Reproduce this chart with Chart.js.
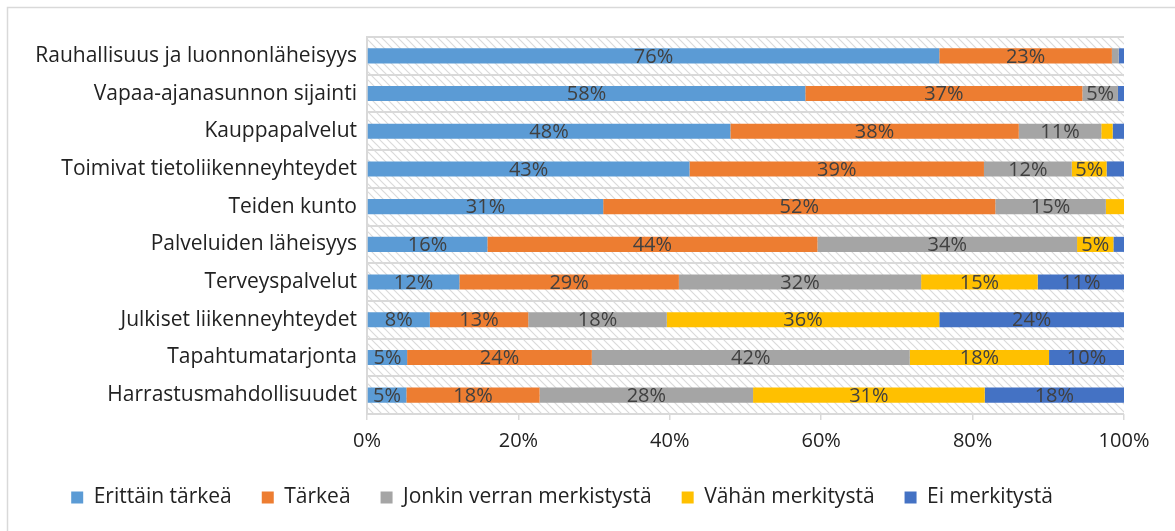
<!DOCTYPE html>
<html>
<head>
<meta charset="utf-8">
<script src="https://cdn.jsdelivr.net/npm/chart.js@4/dist/chart.umd.min.js"></script>
<style>
  body { margin: 0; background: #fff; }
  #wrap { width: 1175px; height: 531px; position: relative; }
</style>
</head>
<body>
<div id="wrap"><canvas id="barChart"></canvas></div>
<script>
// categories, top to bottom
var categories = [
    'Rauhallisuus ja luonnonläheisyys',
    'Vapaa-ajanasunnon sijainti',
    'Kauppapalvelut',
    'Toimivat tietoliikenneyhteydet',
    'Teiden kunto',
    'Palveluiden läheisyys',
    'Terveyspalvelut',
    'Julkiset liikenneyhteydet',
    'Tapahtumatarjonta',
    'Harrastusmahdollisuudet'
];
var seriesNames = ['Erittäin tärkeä', 'Tärkeä', 'Jonkin verran merkistystä', 'Vähän merkitystä', 'Ei merkitystä'];
var erittainTarkea = [75.6, 57.9, 48.0, 42.6, 31.2, 15.9, 12.2, 8.3, 5.3, 5.2];
var tarkea         = [22.8, 36.6, 38.1, 38.9, 51.8, 43.6, 29.0, 13.0, 24.4, 17.6];
var jonkinVerran   = [0.9, 4.7, 10.9, 11.6, 14.6, 34.3, 32.0, 18.3, 42.0, 28.2];
var vahan          = [0, 0, 1.5, 4.6, 2.4, 4.8, 15.4, 36.0, 18.4, 30.6];
var eiMerkitysta   = [0.7, 0.8, 1.5, 2.3, 0, 1.4, 11.4, 24.4, 9.9, 18.4];
var xTicks = [0, 20, 40, 60, 80, 100];

var colors = ['#5B9BD5', '#ED7D31', '#A5A5A5', '#FFC000', '#4472C4'];
var values = [erittainTarkea, tarkea, jonkinVerran, vahan, eiMerkitysta];
var FONT = '"Open Sans"';

// hatch for the plot area
function makeHatch() {
    var c = document.createElement('canvas');
    c.width = 8; c.height = 8;
    var g = c.getContext('2d');
    g.fillStyle = '#fff';
    g.fillRect(0, 0, 8, 8);
    g.strokeStyle = '#dadada';
    g.lineWidth = 1.2;
    g.beginPath();
    g.moveTo(-1, -1); g.lineTo(9, 9);
    g.moveTo(-1, 7); g.lineTo(1, 9);
    g.moveTo(7, -1); g.lineTo(9, 1);
    g.stroke();
    return g.createPattern(c, 'repeat');
}

var backdrop = {
    id: 'backdrop',
    beforeDraw: function (chart) {
        var ctx = chart.ctx, a = chart.chartArea;
        ctx.save();
        ctx.strokeStyle = '#d9d9d9';
        ctx.lineWidth = 1.5;
        ctx.beginPath();
        ctx.moveTo(7.5, 600); ctx.lineTo(7.5, 7.5); ctx.lineTo(1200, 7.5);
        ctx.stroke();
        ctx.fillStyle = makeHatch();
        ctx.fillRect(a.left, a.top, a.right - a.left, a.bottom - a.top);
        ctx.restore();
    }
};

var barLabels = {
    id: 'barLabels',
    afterDatasetsDraw: function (chart) {
        var ctx = chart.ctx;
        ctx.save();
        ctx.font = '20px ' + FONT;
        ctx.fillStyle = '#404040';
        ctx.textAlign = 'center';
        ctx.textBaseline = 'middle';
        chart.data.datasets.forEach(function (ds, i) {
            chart.getDatasetMeta(i).data.forEach(function (bar, j) {
                var v = ds.data[j];
                if (v < 4.5) return;
                ctx.fillText(Math.round(v) + '%', (bar.x + bar.base) / 2, bar.y + 1);
            });
        });
        ctx.restore();
    }
};

var data = {
    labels: categories,
    datasets: seriesNames.map(function (name, i) {
        return {
            label: name,
            data: values[i],
            backgroundColor: colors[i],
            borderWidth: 0,
            barPercentage: 0.8,
            categoryPercentage: 0.5
        };
    })
};

var barChart = new Chart(document.getElementById('barChart'), {
    type: 'bar',
    data: data,
    plugins: [backdrop, barLabels],
    options: {
        indexAxis: 'y',
        responsive: true,
        maintainAspectRatio: false,
        animation: false,
        layout: { padding: { left: 0, right: 51, top: 37, bottom: 13 } },
        plugins: {
            tooltip: { enabled: false },
            legend: {
                position: 'bottom',
                labels: {
                    boxWidth: 12,
                    boxHeight: 12,
                    padding: 30,
                    color: '#222',
                    font: { family: FONT, size: 21 }
                }
            }
        },
        scales: {
            x: {
                stacked: true,
                min: 0,
                max: 100,
                afterBuildTicks: function (scale) {
                    scale.ticks = xTicks.map(function (v) { return { value: v }; });
                },
                afterFit: function (scale) { scale.height = 43; },
                grid: { drawOnChartArea: false, drawTicks: true, tickLength: 6, color: '#d9d9d9', lineWidth: 1.5 },
                border: { display: false },
                ticks: {
                    padding: 9,
                    color: '#222',
                    font: { family: FONT, size: 20 },
                    maxRotation: 0,
                    callback: function (v) { return v + '%'; }
                }
            },
            y: {
                stacked: true,
                afterFit: function (scale) { scale.width = 367; },
                grid: { color: '#d9d9d9', lineWidth: 2, drawTicks: false, offset: true },
                border: { color: '#d9d9d9', width: 2 },
                ticks: {
                    padding: 10,
                    color: '#222',
                    font: { family: FONT, size: 21 }
                }
            }
        }
    }
});
</script>
</body>
</html>
